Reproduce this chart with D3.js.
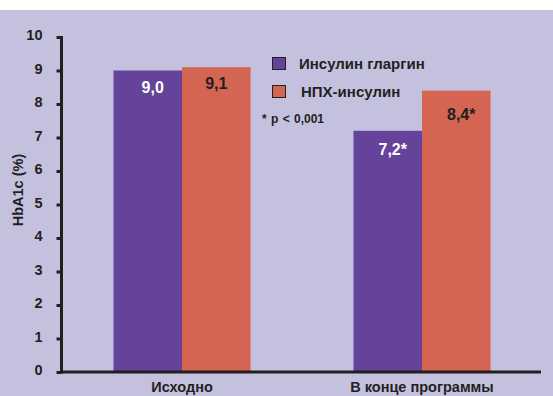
<!DOCTYPE html>
<html>
<head>
<meta charset="utf-8">
<script src="https://cdn.jsdelivr.net/npm/d3@7"></script>
<style>
  html, body { margin: 0; padding: 0; background: #ffffff; }
  svg { display: block; }
  text { font-family: "Liberation Sans", Arial, sans-serif; font-weight: bold; fill: #231f20; }
</style>
</head>
<body>
<svg id="chart" width="553" height="396"></svg>
<script>
// HbA1c at baseline and at the end of the programme, by insulin type
const groups = ["Исходно", "В конце программы"];
const seriesNames = ["Инсулин гларгин", "НПХ-инсулин"];
const glargine = [9.0, 7.2];
const nph = [9.1, 8.4];
const valueLabels = [["9,0", "7,2*"], ["9,1", "8,4*"]];
const yTicks = [0, 1, 2, 3, 4, 5, 6, 7, 8, 9, 10];
const note = "* p < 0,001";
const yTitle = "HbA1c (%)";

const colors = ["#65439a", "#d56553"];
const labelColors = ["#ffffff", "#231f20"];
const series = [glargine, nph];
const fontFamily = "'Liberation Sans', Arial, sans-serif";

const svg = d3.select("#chart");
svg.append("rect").attr("x", 0).attr("y", 10).attr("width", 553).attr("height", 386).attr("fill", "#c4c1df");

const x0 = d3.scaleBand().domain(groups).range([62, 542]).paddingInner(0.429).paddingOuter(0.2145);
const x1 = d3.scaleBand().domain([0, 1]).range([0, x0.bandwidth()]);
const y = d3.scaleLinear().domain([0, 10]).range([372, 37]);

// bars
series.forEach((vals, si) => {
  svg.append("g").selectAll("rect").data(vals).join("rect")
    .attr("x", (d, i) => x0(groups[i]) + x1(si))
    .attr("y", d => y(d))
    .attr("width", x1.bandwidth())
    .attr("height", d => y(0) - y(d))
    .attr("fill", colors[si]);
});

// value labels inside the bars (nudged from the bar centre)
const labelDx = [[5, 5], [0, 5]];
const labelDy = [[22, 24], [22, 29]];
series.forEach((vals, si) => {
  svg.append("g").selectAll("text").data(vals).join("text")
    .attr("x", (d, i) => x0(groups[i]) + x1(si) + x1.bandwidth() / 2 + labelDx[si][i])
    .attr("y", (d, i) => y(d) + labelDy[si][i])
    .attr("text-anchor", "middle")
    .style("font-size", "16px")
    .style("fill", labelColors[si])
    .text((d, i) => valueLabels[si][i]);
});

// y axis
const yAxis = svg.append("g").attr("transform", "translate(61.5,0)")
  .call(d3.axisLeft(y).tickValues(yTicks).tickSize(5).tickPadding(14).tickFormat(d3.format("d")));
yAxis.select(".domain").remove();
yAxis.selectAll(".tick line").attr("stroke", "#231f20").attr("stroke-width", 3);
yAxis.selectAll(".tick text").style("font-size", "14.5px").style("fill", "#231f20")
  .style("font-family", fontFamily).style("font-weight", "bold").attr("dy", "0.18em");
svg.append("line").attr("x1", 61.5).attr("x2", 61.5).attr("y1", 36).attr("y2", 373.5)
  .attr("stroke", "#231f20").attr("stroke-width", 3);

// x axis
const xAxis = svg.append("g").attr("transform", "translate(0,372)")
  .call(d3.axisBottom(x0).tickSize(0).tickPadding(10));
xAxis.select(".domain").remove();
xAxis.selectAll(".tick text").style("font-size", "14.5px").style("fill", "#231f20")
  .style("font-family", fontFamily).style("font-weight", "bold").attr("dy", "0.71em");
svg.append("line").attr("x1", 60).attr("x2", 541).attr("y1", 372).attr("y2", 372)
  .attr("stroke", "#231f20").attr("stroke-width", 3);

// y axis title
svg.append("text")
  .attr("transform", "translate(23,190) rotate(-90)")
  .attr("text-anchor", "middle")
  .style("font-size", "14.5px")
  .text(yTitle);

// legend
const legend = svg.append("g");
seriesNames.forEach((name, i) => {
  const ly = 57 + i * 28;
  legend.append("rect").attr("x", 272.5).attr("y", ly + 0.5).attr("width", 13).attr("height", 12)
    .attr("fill", colors[i]).attr("stroke", "#231f20").attr("stroke-width", 1);
  legend.append("text").attr("x", i === 0 ? 299 : 301).attr("y", ly + 6.5).attr("dy", "0.35em")
    .style("font-size", "15px").text(name);
});

svg.append("text").attr("x", 262).attr("y", 119).attr("dy", "0.35em")
  .style("font-size", "12px").style("word-spacing", "1px").text(note);
</script>
</body>
</html>
